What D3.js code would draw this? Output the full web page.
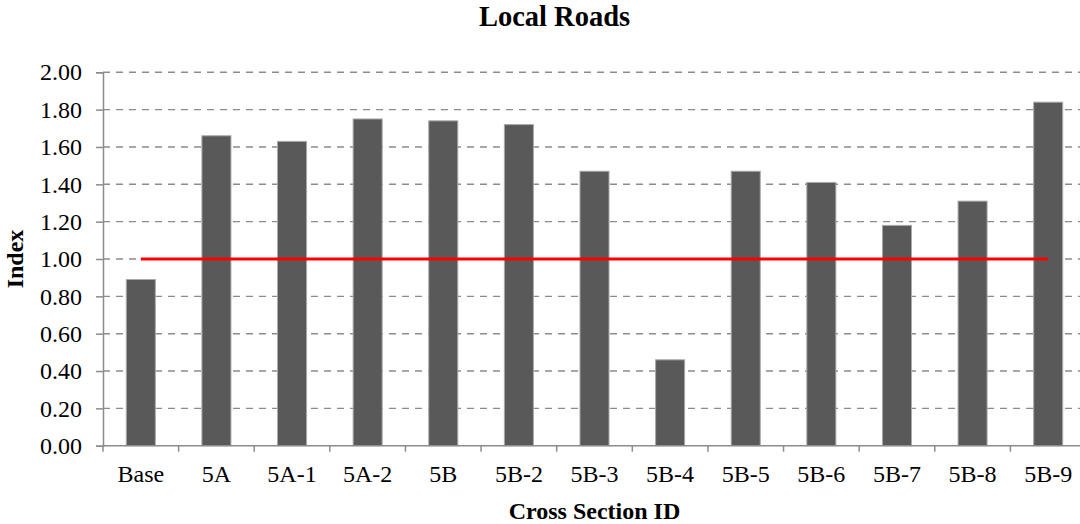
<!DOCTYPE html>
<html>
<head>
<meta charset="utf-8">
<script src="https://cdn.jsdelivr.net/npm/d3@7"></script>
<style>
  html, body { margin: 0; padding: 0; background: #fff; }
  svg { display: block; }
  text { font-family: "Liberation Serif", "Times New Roman", serif; fill: #000; }
</style>
</head>
<body>
<svg id="chart" width="1080" height="524"></svg>
<script>
// Cross sections and their index values
const categories = ["Base", "5A", "5A-1", "5A-2", "5B", "5B-2", "5B-3", "5B-4", "5B-5", "5B-6", "5B-7", "5B-8", "5B-9"];
const indexValues = [0.89, 1.66, 1.63, 1.75, 1.74, 1.72, 1.47, 0.46, 1.47, 1.41, 1.18, 1.31, 1.84];
// Reference level drawn as a red line across all sections
const referenceValues = [1.00, 1.00, 1.00, 1.00, 1.00, 1.00, 1.00, 1.00, 1.00, 1.00, 1.00, 1.00, 1.00];
const yTicks = [0.00, 0.20, 0.40, 0.60, 0.80, 1.00, 1.20, 1.40, 1.60, 1.80, 2.00];

const chartTitle = "Local Roads";
const xTitle = "Cross Section ID";
const yTitle = "Index";

const svg = d3.select("#chart");
const plot = { left: 103, right: 1086, top: 72.3, bottom: 445.7 };

const x = d3.scaleBand()
  .domain(categories)
  .range([plot.left, plot.right])
  .paddingInner(0.616)
  .paddingOuter(0.308);

const xEdges = d3.scalePoint()
  .domain(d3.range(categories.length + 1))
  .range([plot.left, plot.right]);

const y = d3.scaleLinear().domain([0, 2]).range([plot.bottom, plot.top]);

// Dashed horizontal gridlines
svg.append("g")
  .selectAll("line")
  .data(yTicks.filter(d => d > 0))
  .join("line")
  .attr("x1", plot.left)
  .attr("x2", plot.right)
  .attr("y1", d => y(d))
  .attr("y2", d => y(d))
  .attr("stroke", "#8c8c8c")
  .attr("stroke-width", 1.4)
  .attr("stroke-dasharray", "7,6");

// Y axis
const yAxis = svg.append("g")
  .attr("transform", `translate(${plot.left},0)`)
  .call(d3.axisLeft(y).tickValues(yTicks).tickFormat(d3.format(".2f")).tickSize(7).tickPadding(14));
yAxis.select(".domain").attr("stroke", "#8c8c8c").attr("stroke-width", 1.5);
yAxis.selectAll(".tick line").attr("stroke", "#8c8c8c").attr("stroke-width", 1.5);
yAxis.selectAll(".tick text")
  .attr("font-family", "Liberation Serif, Times New Roman, serif")
  .attr("font-size", 24)
  .attr("fill", "#000");

// Bars
svg.append("g")
  .selectAll("rect")
  .data(categories.map((c, i) => ({ c, v: indexValues[i] })))
  .join("rect")
  .attr("x", d => x(d.c))
  .attr("width", x.bandwidth())
  .attr("y", d => y(d.v))
  .attr("height", d => y(0) - y(d.v))
  .attr("fill", "#595959")
  .attr("stroke", "#a9a9a9")
  .attr("stroke-width", 1);

// X axis line with ticks at category boundaries
const xAxisG = svg.append("g");
xAxisG.append("line")
  .attr("x1", plot.left).attr("x2", plot.right)
  .attr("y1", y(0)).attr("y2", y(0))
  .attr("stroke", "#8c8c8c").attr("stroke-width", 1.5);
xAxisG.selectAll("line.tk")
  .data(d3.range(categories.length + 1))
  .join("line")
  .attr("class", "tk")
  .attr("x1", d => xEdges(d)).attr("x2", d => xEdges(d))
  .attr("y1", y(0)).attr("y2", y(0) + 6)
  .attr("stroke", "#8c8c8c").attr("stroke-width", 1.5);
xAxisG.selectAll("text")
  .data(categories)
  .join("text")
  .attr("x", d => x(d) + x.bandwidth() / 2)
  .attr("y", 481.5)
  .attr("text-anchor", "middle")
  .attr("font-size", 24)
  .text(d => d);

// Reference line
const line = d3.line()
  .x((d, i) => x(categories[i]) + x.bandwidth() / 2)
  .y(d => y(d));
svg.append("path")
  .datum(referenceValues)
  .attr("d", line)
  .attr("fill", "none")
  .attr("stroke", "#ff0000")
  .attr("stroke-width", 3.2);

// Titles
svg.append("text")
  .attr("x", 554.5).attr("y", 26)
  .attr("text-anchor", "middle")
  .attr("font-weight", "bold")
  .attr("font-size", 28.5)
  .text(chartTitle);

svg.append("text")
  .attr("x", (plot.left + plot.right) / 2).attr("y", 519)
  .attr("text-anchor", "middle")
  .attr("font-weight", "bold")
  .attr("font-size", 24)
  .text(xTitle);

svg.append("text")
  .attr("transform", `translate(23,${(plot.top + plot.bottom) / 2}) rotate(-90)`)
  .attr("text-anchor", "middle")
  .attr("font-weight", "bold")
  .attr("font-size", 24)
  .text(yTitle);
</script>
</body>
</html>
